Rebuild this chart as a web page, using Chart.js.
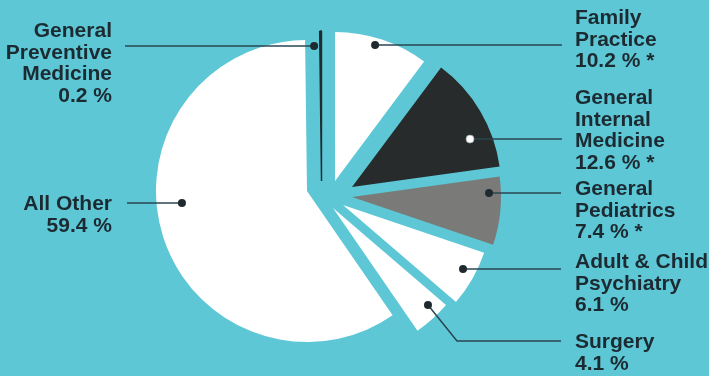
<!DOCTYPE html>
<html>
<head>
<meta charset="utf-8">
<script src="https://cdn.jsdelivr.net/npm/chart.js@4"></script>
<style>
  html, body { margin: 0; padding: 0; background: #5dc7d6; }
  #stage { position: relative; width: 709px; height: 376px; background: #5dc7d6; overflow: hidden; }
  #stage canvas { position: absolute; left: 0; top: 0; }
  .lbl {
    position: absolute;
    font-family: "Liberation Sans", Arial, Helvetica, sans-serif;
    font-weight: bold;
    font-size: 21px;
    line-height: 21.5px;
    color: #1c2a31;
    white-space: pre;
  }
  .lbl.alignRight { text-align: right; }
</style>
</head>
<body>
<div id="stage"></div>
<script>
// ---- data ----
const categories = [
  'Family Practice',
  'General Internal Medicine',
  'General Pediatrics',
  'Adult & Child Psychiatry',
  'Surgery',
  'All Other',
  'General Preventive Medicine'
];
const shares = [10.2, 12.6, 7.4, 6.1, 4.1, 59.4, 0.2];
const starred = [true, true, true, false, false, false, false];
const nameLines = [
  ['Family', 'Practice'],
  ['General', 'Internal', 'Medicine'],
  ['General', 'Pediatrics'],
  ['Adult & Child', 'Psychiatry'],
  ['Surgery'],
  ['All Other'],
  ['General', 'Preventive', 'Medicine']
];

// ---- styling & layout ----
const W = 709, H = 376;
const LINE = '#2a4650';
const sliceColors = ['#ffffff', '#272b2b', '#7a7b79', '#ffffff', '#ffffff', '#ffffff', '#1f2d33'];
const sliceBorders = [0, 0, 0, 0, 0, 0, 1.4];

// exploded layout: wedge tip and radius for each slice
const explode = [
  { x: 335,   y: 181, r: 149 },
  { x: 352,   y: 187, r: 149 },
  { x: 352,   y: 197, r: 149 },
  { x: 343,   y: 205, r: 149 },
  { x: 333,   y: 208, r: 149 },
  { x: 307,   y: 191, r: 151 },
  { x: 321.5, y: 181, r: 150 }
];

// leader lines: dot placed at fraction t of the slice sweep and rf of its radius
const leaders = [
  { t: 0.447, rf: 0.952, endX: 562, dot: '#1f2a2e' },
  { t: 0.687, rf: 0.855, endX: 562, dot: '#ffffff' },
  { t: 0.235, rf: 0.920, endX: 561, dot: '#1f2a2e' },
  { t: 0.426, rf: 0.913, endX: 561, dot: '#1f2a2e' },
  { t: 0.333, rf: 0.911, endX: 561, elbow: [457, 341], dot: '#1f2a2e' },
  { t: 0.557, rf: 0.832, endX: 127, dot: '#1f2a2e' },
  { t: 0.5,   rf: 0.900, endX: 125, dx: -6.5, dot: '#1f2a2e' }
];

// label blocks: centre of first line
const labelPos = [
  { side: 'r', x: 575, cy: 17 },
  { side: 'r', x: 575, cy: 97 },
  { side: 'r', x: 575, cy: 188 },
  { side: 'r', x: 575, cy: 261 },
  { side: 'r', x: 575, cy: 341 },
  { side: 'l', x: 112, cy: 203 },
  { side: 'l', x: 112, cy: 30 }
];

const drawOrder = [5, 0, 1, 2, 3, 4, 6];

function padFor(cx, cy) {
  const p = { left: 0, right: 0, top: 0, bottom: 0 };
  if (cx <= W / 2) p.right = W - 2 * cx; else p.left = 2 * cx - W;
  if (cy <= H / 2) p.bottom = H - 2 * cy; else p.top = 2 * cy - H;
  return p;
}

const leaderPlugin = {
  id: 'leader',
  afterDatasetsDraw(chart, args, opts) {
    const i = opts.index;
    const arc = chart.getDatasetMeta(0).data[i];
    const { x, y, startAngle, endAngle, outerRadius } =
      arc.getProps(['x', 'y', 'startAngle', 'endAngle', 'outerRadius'], true);
    const L = leaders[i];
    const a = startAngle + L.t * (endAngle - startAngle);
    const px = x + L.rf * outerRadius * Math.cos(a) + (L.dx || 0);
    const py = y + L.rf * outerRadius * Math.sin(a);
    const ctx = chart.ctx;
    ctx.save();
    ctx.strokeStyle = LINE;
    ctx.lineWidth = 1.5;
    ctx.beginPath();
    ctx.moveTo(px, py);
    let ly = py;
    if (L.elbow) { ctx.lineTo(L.elbow[0], L.elbow[1]); ly = L.elbow[1]; }
    ctx.lineTo(L.endX, ly);
    ctx.stroke();
    ctx.beginPath();
    ctx.arc(px, py, 4, 0, Math.PI * 2);
    ctx.fillStyle = L.dot;
    ctx.fill();
    if (L.dot === '#ffffff') { ctx.lineWidth = 0.8; ctx.strokeStyle = '#9aa'; ctx.stroke(); }
    ctx.restore();
  }
};

const stage = document.getElementById('stage');

// one layer per wedge, each drawn by its own pie so the wedges can be pulled apart
drawOrder.forEach(i => {
  const cv = document.createElement('canvas');
  cv.width = W; cv.height = H;
  stage.appendChild(cv);
  const e = explode[i];
  new Chart(cv, {
    type: 'pie',
    data: {
      labels: categories,
      datasets: [{
        data: shares,
        backgroundColor: categories.map((_, j) => j === i ? sliceColors[j] : 'rgba(0,0,0,0)'),
        borderColor: categories.map((_, j) => j === i ? sliceColors[j] : 'rgba(0,0,0,0)'),
        borderWidth: categories.map((_, j) => j === i ? sliceBorders[j] : 0),
        clip: false
      }]
    },
    options: {
      responsive: false,
      animation: false,
      devicePixelRatio: 1,
      events: [],
      radius: e.r,
      layout: { padding: padFor(e.x, e.y) },
      plugins: {
        legend: { display: false },
        tooltip: { enabled: false },
        leader: { index: i }
      }
    },
    plugins: [leaderPlugin]
  });
});

// category labels with their shares
categories.forEach((c, i) => {
  const d = document.createElement('div');
  const p = labelPos[i];
  d.className = 'lbl' + (p.side === 'l' ? ' alignRight' : '');
  const valueText = shares[i].toFixed(1) + ' %' + (starred[i] ? ' *' : '');
  d.textContent = nameLines[i].concat([valueText]).join('\n');
  d.style.top = (p.cy - 10.75) + 'px';
  if (p.side === 'r') d.style.left = p.x + 'px';
  else d.style.right = (W - p.x) + 'px';
  stage.appendChild(d);
});
</script>
</body>
</html>
